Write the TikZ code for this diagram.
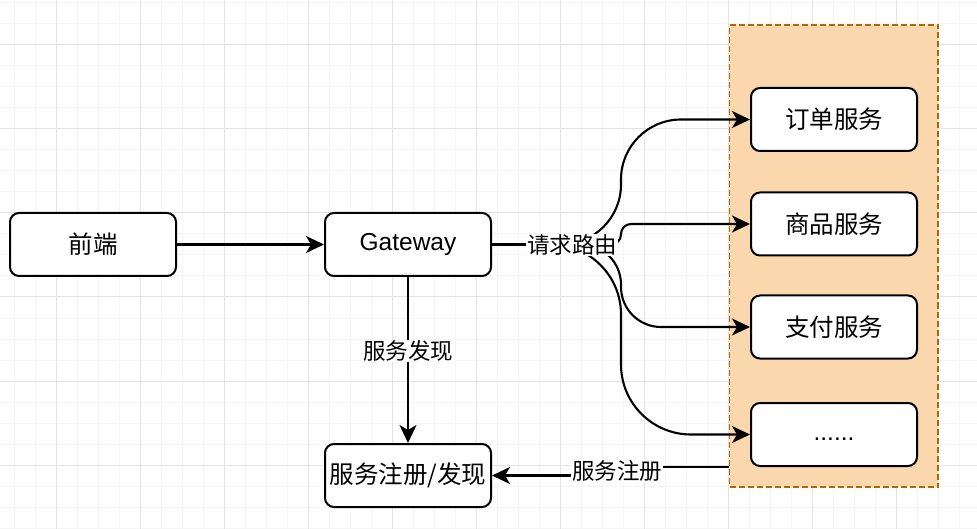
\documentclass[tikz,border=0pt]{standalone}
\usepackage{fontspec}
\setmainfont{Liberation Sans}
\newfontfamily\cjk{Noto Sans CJK SC}
\usetikzlibrary{arrows.meta}
\definecolor{gridminor}{HTML}{F5F5F5}
\definecolor{gridmajor}{HTML}{E3E3E3}
\definecolor{grpfill}{HTML}{FAD7AC}
\definecolor{grpline}{HTML}{B46504}
\begin{document}
\begin{tikzpicture}[x=1pt,y=-1pt,
  box/.style={draw, line width=2pt, rounded corners=9pt, fill=white, minimum width=166pt, minimum height=63pt, inner sep=0pt, font=\fontsize{24.5}{28}\selectfont},
  lbl/.style={fill=white, inner sep=1pt, font=\cjk\fontsize{22.5}{26}\selectfont},
  conn/.style={line width=2.1pt, -{Stealth[length=18pt,width=17pt,inset=5pt]}},
  group/.style={draw=grpline, fill=grpfill, line width=1.8pt, dash pattern=on 6pt off 3pt, minimum width=208.5pt, minimum height=462pt, inner sep=0pt},
]
\useasboundingbox (0,0) rectangle (977,529);
\fill[white] (0,0) rectangle (977,529);
\foreach \x in {14,35,...,977} \draw[gridminor, line width=1pt] (\x,0) -- (\x,529);
\foreach \y in {3,24,...,529} \draw[gridminor, line width=1pt] (0,\y) -- (977,\y);
\foreach \x in {56,140,...,977} \draw[gridmajor, line width=1pt] (\x,0) -- (\x,529);
\foreach \y in {45,129,...,529} \draw[gridmajor, line width=1pt] (0,\y) -- (977,\y);

\node[group] (grp) at (833.75,256) {};
\node[box] (fe) at (93,244.5) {\cjk 前端};
\node[box] (gw) at (408,244.5) {\raisebox{-1.8pt}{Gateway}};
\node[box] (reg) at (408,475.5) {\cjk 服务注册/发现};
\node[box] (s1) at (834,119.5) {\cjk 订单服务};
\node[box] (s2) at (834,224) {\cjk 商品服务};
\node[box] (s3) at (834,327) {\cjk 支付服务};
\node[box] (s4) at (834,434.5) {\vphantom{Gy}......};

\draw[conn] (fe) -- (gw);
\draw[conn] (gw) -- (reg);
\draw[conn, rounded corners=60pt] (gw.east) -- (621,244.5) |- (s1.west);
\draw[conn, rounded corners=10pt] (gw.east) -- (621,244.5) |- (s2.west);
\draw[conn, rounded corners=40pt] (gw.east) -- (621,244.5) |- (s3.west);
\draw[conn, rounded corners=70pt] (gw.east) -- (621,244.5) |- (s4.west);
\draw[conn] (grp.west |- s4.south) -- ++(-112.5,0) |- (reg.east);

\node[lbl] (l1) at (572,245) {请求路由};
\node[lbl] (l2) at (408,351) {服务发现};
\node[lbl] (l3) at (617,471) {服务注册};
\end{tikzpicture}
\end{document}
